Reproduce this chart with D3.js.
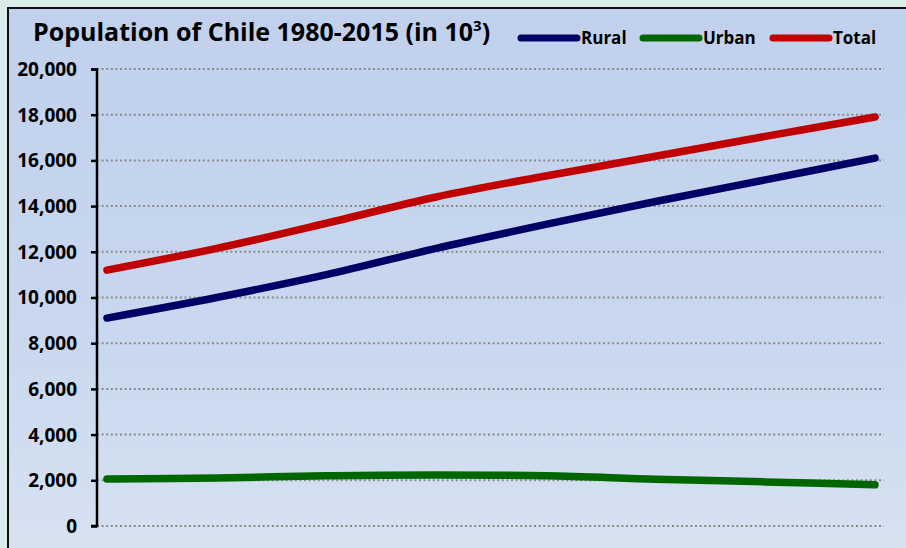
<!DOCTYPE html>
<html><head><meta charset="utf-8">
<script src="https://cdn.jsdelivr.net/npm/d3@7"></script>
<style>html,body{margin:0;padding:0;background:#dcebec;}svg{display:block;}</style>
</head><body>
<script>
const years = [1980, 1985, 1990, 1995, 2000, 2005, 2010, 2015];
const rural = [9100, 10000, 11000, 12150, 13200, 14200, 15150, 16100];
const urban = [2060, 2100, 2200, 2230, 2200, 2050, 1930, 1800];
const total = [11200, 12150, 13250, 14400, 15320, 16180, 17050, 17900];
const yTicks = [0, 2000, 4000, 6000, 8000, 10000, 12000, 14000, 16000, 18000, 20000];
const seriesNames = ["Rural", "Urban", "Total"];
const seriesColors = ["#000066", "#006600", "#c00000"];

const W = 906, H = 548;
const svg = d3.select("body").append("svg").attr("width", W).attr("height", H);
const defs = svg.append("defs");
const grad = defs.append("linearGradient").attr("id", "bg").attr("x1", 0).attr("y1", 0).attr("x2", 0).attr("y2", 1);
grad.append("stop").attr("offset", "0%").attr("stop-color", "#c1d0ec");
grad.append("stop").attr("offset", "60%").attr("stop-color", "#c9d8ef");
grad.append("stop").attr("offset", "100%").attr("stop-color", "#d8e3f1");

svg.append("rect").attr("x", 0).attr("y", 0).attr("width", W).attr("height", H).attr("fill", "#d9ebeb");
svg.append("rect").attr("x", 8).attr("y", 8).attr("width", W + 10).attr("height", H + 10)
  .attr("fill", "url(#bg)").attr("stroke", "#111").attr("stroke-width", 2);

const x = d3.scalePoint().domain(years).range([107, 875]);
const y = d3.scaleLinear().domain([0, 20000]).range([526, 69]);

// gridlines
svg.append("g").selectAll("line").data(yTicks).join("line")
  .attr("x1", 97).attr("x2", 884).attr("y1", d => y(d)).attr("y2", d => y(d))
  .attr("stroke", "#8a8a8a").attr("stroke-width", 2).attr("stroke-dasharray", "2,2.6");

// axis
const axis = d3.axisLeft(y).tickValues(yTicks).tickSize(6).tickPadding(14)
  .tickFormat(d3.format(","));
const ag = svg.append("g").attr("transform", "translate(97,0)").call(axis);
ag.select(".domain").attr("stroke", "#000").attr("stroke-width", 2.5).attr("d", "M-6,69.5H0V526H-6");
ag.selectAll(".tick line").attr("stroke", "#000").attr("stroke-width", 2.5);
ag.selectAll(".tick text").attr("fill", "#000").style("font-family", "'Open Sans', sans-serif")
  .style("font-weight", 700).style("font-size", "19px").attr("dy", "0.34em");

const data = [rural, urban, total];
const line = d3.line().x((d, i) => x(years[i])).y(d => y(d)).curve(d3.curveCatmullRom.alpha(0.5));
svg.append("g").selectAll("path").data(data).join("path")
  .attr("d", d => line(d)).attr("fill", "none")
  .attr("stroke", (d, i) => seriesColors[i]).attr("stroke-width", 7.5)
  .attr("stroke-linecap", "round").attr("stroke-linejoin", "round");

// title
const title = svg.append("text").attr("x", 33).attr("y", 41)
  .style("font-family", "'Open Sans', sans-serif").style("font-weight", 700).style("font-size", "25px").attr("fill", "#000");
title.append("tspan").text("Population of Chile 1980-2015 (in 10");
title.append("tspan").text("3").attr("dy", -10).style("font-size", "15px");
title.append("tspan").text(")").attr("dy", 10);

// legend
const legX = [521, 643, 773];
const lg = svg.append("g").selectAll("g").data(seriesNames).join("g")
  .attr("transform", (d, i) => `translate(${legX[i]},38)`);
lg.append("line").attr("x1", 0).attr("x2", 56).attr("y1", 0).attr("y2", 0)
  .attr("stroke", (d, i) => seriesColors[i]).attr("stroke-width", 7).attr("stroke-linecap", "round");
lg.append("text").attr("x", 60).attr("y", 0).attr("dy", "0.36em").text(d => d)
  .style("font-family", "'Open Sans', sans-serif").style("font-weight", 700).style("font-size", "17px").attr("fill", "#000");
</script>
</body></html>
